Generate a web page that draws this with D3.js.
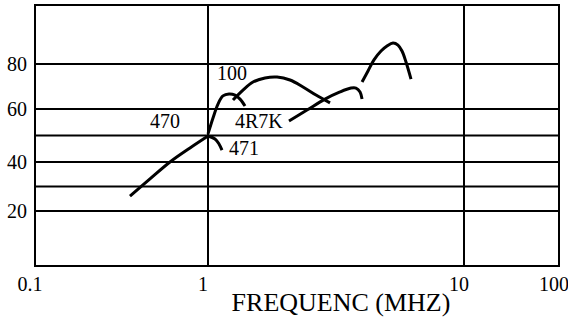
<!DOCTYPE html>
<html>
<head>
<meta charset="utf-8">
<script src="https://cdn.jsdelivr.net/npm/d3@7"></script>
<style>
  body { margin: 0; background: #fff; }
  svg text { font-family: "Liberation Serif", "Times New Roman", serif; fill: #000; }
</style>
</head>
<body>
<div id="chart"></div>
<script>
// hand-drawn impedance chart: log frequency (MHz) vs value
const xTicks = [0.1, 1, 10, 100];
const xTickLabels = ['0.1', '1', '10', '100'];
const yTicks = [20, 40, 60, 80];
const yGrid = [20, 30, 40, 50, 60, 80];
const xGrid = [1, 10];

// curves: [MHz, value]
const curve470 = [[0.354, 26.1], [0.462, 33.1], [0.603, 40], [0.787, 45.3], [1, 49.8]];
const curve471 = [[1, 49.8], [1.065, 48.7], [1.104, 46.8], [1.134, 44.5]];
const curveRise = [[1, 50.6], [1.046, 56.6], [1.094, 62.2], [1.144, 65.8], [1.208, 66.7], [1.275, 66.2], [1.334, 64.4], [1.395, 61.3]];
const curve100 = [[1.252, 64.0], [1.37, 68.4], [1.499, 72.0], [1.67, 73.8], [1.861, 74.2], [2.091, 72.9], [2.35, 69.8], [2.642, 66.2], [2.997, 62.7]];
const curve4R7K = [[2.072, 55.5], [2.436, 59.6], [2.864, 64.4], [3.279, 67.6], [3.62, 69.3], [3.785, 69.3], [3.926, 67.6], [3.997, 64.4]];
const curvePeak = [[3.997, 72.0], [4.217, 76.9], [4.45, 81.4], [4.741, 84.4], [5.003, 86.1], [5.281, 87.1], [5.523, 86.4], [5.725, 84.4], [5.935, 80.7], [6.209, 73.3]];

const labelNames = ['470', '471', '100', '4R7K'];
const labelX = [0.462, 1.208, 1.084, 1.275];
const labelY = [52.8, 42.6, 72.9, 52.8];

const svgWidth = 568;
const svgHeight = 325;

// the paper scale is uneven, so both axes are piecewise
const xScale = d3.scaleLog()
    .domain([0.1, 1, 10, 100])
    .range([35, 208, 464, 559]);
const yScale = d3.scaleLinear()
    .domain([0, 20, 40, 60, 80, 100])
    .range([266, 211, 162, 109, 64, 5]);

const svg = d3.select('#chart')
    .append('svg')
    .attr('width', svgWidth)
    .attr('height', svgHeight);

const x0 = xScale(0.1), x1 = xScale(100);
const y0 = yScale(0), y1 = yScale(100);

svg.selectAll('.hgrid')
    .data(yGrid)
    .enter()
    .append('line')
    .attr('x1', x0)
    .attr('x2', x1)
    .attr('y1', d => yScale(d))
    .attr('y2', d => yScale(d))
    .attr('stroke', '#000')
    .attr('stroke-width', 2);

svg.selectAll('.vgrid')
    .data(xGrid)
    .enter()
    .append('line')
    .attr('x1', d => xScale(d))
    .attr('x2', d => xScale(d))
    .attr('y1', y1)
    .attr('y2', y0)
    .attr('stroke', '#000')
    .attr('stroke-width', 2);

svg.append('rect')
    .attr('x', x0)
    .attr('y', y1)
    .attr('width', x1 - x0)
    .attr('height', y0 - y1)
    .attr('fill', 'none')
    .attr('stroke', '#000')
    .attr('stroke-width', 2);

const line = d3.line()
    .x(d => xScale(d[0]))
    .y(d => yScale(d[1]))
    .curve(d3.curveCatmullRom);

svg.selectAll('.curve')
    .data([curve470, curve471, curveRise, curve100, curve4R7K, curvePeak])
    .enter()
    .append('path')
    .attr('d', line)
    .attr('fill', 'none')
    .attr('stroke', '#000')
    .attr('stroke-width', 3);

svg.selectAll('.clabel')
    .data(labelNames)
    .enter()
    .append('text')
    .attr('x', (d, i) => xScale(labelX[i]))
    .attr('y', (d, i) => yScale(labelY[i]))
    .attr('font-size', 20)
    .text(d => d);

svg.selectAll('.ylabel')
    .data(yTicks)
    .enter()
    .append('text')
    .attr('x', 27)
    .attr('y', d => yScale(d) + 7)
    .attr('text-anchor', 'end')
    .attr('font-size', 20)
    .text(d => d);

svg.selectAll('.xlabel')
    .data(xTicks)
    .enter()
    .append('text')
    .attr('x', d => xScale(d) - 5)
    .attr('y', 291)
    .attr('text-anchor', 'middle')
    .attr('font-size', 20)
    .text((d, i) => xTickLabels[i]);

svg.append('text')
    .attr('x', 341)
    .attr('y', 311)
    .attr('text-anchor', 'middle')
    .attr('font-size', 26)
    .text('FREQUENC (MHZ)');
</script>
</body>
</html>
